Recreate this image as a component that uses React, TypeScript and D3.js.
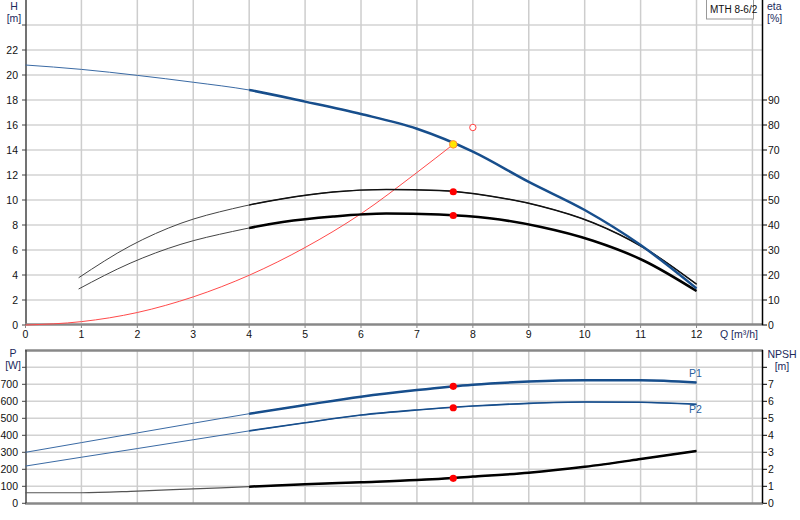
import React from 'react';
import * as d3 from 'd3';

// pump curve (top panel, H axis)
const qH = [0, 1, 2, 3, 4, 5, 6, 7, 8, 9, 10, 11, 12];
const head = [20.8, 20.45, 19.97, 19.42, 18.8, 17.87, 16.88, 15.7, 13.87, 11.45, 9.2, 6.4, 2.93];

// efficiency curves (eta axis)
const qEta = [0.95, 1.87, 2.78, 3.7, 4.6, 5.5, 6.45, 7.4, 8.3, 9.2, 10.15, 11.05, 12.0];
const etaPump = [18.9, 31.6, 40.7, 46.5, 50.5, 53.2, 54.2, 53.8, 51.6, 47.6, 40.9, 31.0, 16.3];
const etaTotal = [14.4, 24.7, 32.3, 37.4, 41.2, 43.4, 44.6, 44.2, 42.7, 39.3, 33.7, 25.8, 13.6];

// system curve
const qSys = [0, 1, 2, 3, 4, 5, 6, 7, 7.65];
const hSys = [0, 0.27, 1.0, 2.25, 3.98, 6.2, 8.9, 12.2, 14.45];

// power and NPSH (bottom panel)
const qP = [0, 1, 2, 3, 4, 5, 6, 7, 8, 9, 10, 11, 12];
const p1 = [300, 357, 414, 471, 527, 578, 627, 666, 698, 716, 724, 724, 710];
const p2 = [219, 271, 322, 374, 426, 474, 519, 549, 572, 588, 596, 594, 582];
const npsh = [0.62, 0.62, 0.72, 0.85, 0.98, 1.12, 1.24, 1.37, 1.57, 1.8, 2.15, 2.6, 3.08];

// duty point
const dutyQ = 7.65;
const dutyH = 14.45;
const dutyEta = [53.3, 43.8];
const dutyP = [688, 562];
const dutyNpsh = 1.47;
const reqQ = 8.0;
const reqH = 15.8;

const xTicks = [0, 1, 2, 3, 4, 5, 6, 7, 8, 9, 10, 11, 12];
const hTicks = [0, 2, 4, 6, 8, 10, 12, 14, 16, 18, 20, 22];
const etaTicks = [0, 10, 20, 30, 40, 50, 60, 70, 80, 90];
const pTicks = [0, 100, 200, 300, 400, 500, 600, 700];
const nTicks = [0, 1, 2, 3, 4, 5, 6, 7];

const FONT = '"Liberation Sans", Arial, sans-serif';
const BLUE = '#174e8c';
const TITLE = '#1c2a5c';

type P = [number, number];
const zip = (a: number[], b: number[]): P[] => a.map((v, i) => [v, b[i]]);

export default function App() {
  const x = d3.scaleLinear().domain([0, 13.18]).range([25.5, 762.5]);
  const yH = d3.scaleLinear().domain([0, 26]).range([325, 0]);
  const yEta = d3.scaleLinear().domain([0, 130]).range([325, 0]);
  const yP = d3.scaleLinear().domain([0, 900]).range([503.3, 350.3]);
  const yN = d3.scaleLinear().domain([0, 9]).range([503.3, 350.3]);

  const mk = (ys: d3.ScaleLinear<number, number>) =>
    d3.line<P>().x(d => x(d[0])).y(d => ys(d[1])).curve(d3.curveMonotoneX);

  const lineH = mk(yH);
  const lineEta = mk(yEta);
  const lineP = mk(yP);
  const lineN = mk(yN);

  const x4 = x(4);
  const gridX = d3.range(1, 14);
  const gridHy = d3.range(2, 26, 2);
  const gridPy = d3.range(100, 900, 100);

  const txt = { fontFamily: FONT, fontSize: 10.5 } as const;

  // thin full curve + thick part from Q=4 on
  const curve = (d: string, thin: string, thick: string, w1: number, w2: number, clip: string) => (
    <g>
      <path d={d} fill="none" stroke={thin} strokeWidth={w1} />
      <path d={d} fill="none" stroke={thick} strokeWidth={w2} clipPath={`url(#${clip})`} />
    </g>
  );

  return (
    <svg width={800} height={520} style={{ position: 'fixed', left: 0, top: 0, background: '#fff' }}>
      <defs>
        <clipPath id="cTop">
          <rect x={x4} y={0} width={800 - x4} height={330} />
        </clipPath>
        <clipPath id="cBot">
          <rect x={x4} y={345} width={800 - x4} height={170} />
        </clipPath>
      </defs>
      <rect width={800} height={520} fill="#fff" />

      {/* top panel grid */}
      {gridHy.map(h => (
        <line key={'gh' + h} x1={x(0)} x2={x(13.18)} y1={yH(h)} y2={yH(h)} stroke="#dedede" strokeWidth={2} />
      ))}
      {gridX.map(q => (
        <line key={'gx' + q} x1={x(q)} x2={x(q)} y1={0} y2={325} stroke="#cdcdcd" strokeWidth={1.5} />
      ))}

      {/* bottom panel grid */}
      {gridPy.map(p => (
        <line key={'gp' + p} x1={x(0)} x2={x(13.18)} y1={yP(p)} y2={yP(p)} stroke="#d2d2d2" strokeWidth={1.5} />
      ))}
      {gridX.map(q => (
        <line key={'gbx' + q} x1={x(q)} x2={x(q)} y1={350} y2={503} stroke="#cdcdcd" strokeWidth={1.5} />
      ))}

      {/* top panel axes */}
      <line x1={26} x2={26} y1={0} y2={325} stroke="#444" strokeWidth={1.5} />
      <line x1={25} x2={763} y1={324.5} y2={324.5} stroke="#888" strokeWidth={2.5} />
      <line x1={762.5} x2={762.5} y1={0} y2={325} stroke="#000" strokeWidth={1.5} />
      {d3.range(0, 26, 2).map(h => (
        <line key={'th' + h} x1={22} x2={26} y1={yH(h)} y2={yH(h)} stroke="#444" strokeWidth={1} />
      ))}
      {hTicks.map(h => (
        <text key={'lh' + h} x={18} y={yH(h) + 4} textAnchor="end" {...txt} fill="#111">{h}</text>
      ))}
      {etaTicks.map(e => (
        <g key={'le' + e}>
          <line x1={762.5} x2={767} y1={yEta(e)} y2={yEta(e)} stroke="#000" strokeWidth={1} />
          <text x={768} y={yEta(e) + 4} {...txt} fill="#111">{e}</text>
        </g>
      ))}
      {xTicks.map(q => (
        <g key={'lx' + q}>
          <line x1={x(q)} x2={x(q)} y1={325} y2={328} stroke="#888" strokeWidth={1} />
          <text x={x(q)} y={338} textAnchor="middle" {...txt} fill="#111">{q}</text>
        </g>
      ))}
      <text x={739} y={338} textAnchor="middle" {...txt} fill={TITLE}>Q [m³/h]</text>
      <text x={14} y={10} textAnchor="middle" {...txt} fill={TITLE}>H</text>
      <text x={14} y={22} textAnchor="middle" {...txt} fill={TITLE}>[m]</text>
      <text x={767} y={10} {...txt} fill={TITLE}>eta</text>
      <text x={767} y={22} {...txt} fill={TITLE}>[%]</text>

      {/* bottom panel axes */}
      <line x1={25} x2={763} y1={350.5} y2={350.5} stroke="#888" strokeWidth={2.5} />
      <line x1={25} x2={763} y1={503.5} y2={503.5} stroke="#888" strokeWidth={2.5} />
      <line x1={26} x2={26} y1={350} y2={503} stroke="#444" strokeWidth={1.5} />
      <line x1={762.5} x2={762.5} y1={350} y2={503} stroke="#000" strokeWidth={1.5} />
      {d3.range(0, 900, 100).map(p => (
        <line key={'tp' + p} x1={22} x2={26} y1={yP(p)} y2={yP(p)} stroke="#444" strokeWidth={1} />
      ))}
      {pTicks.map(p => (
        <text key={'lp' + p} x={18} y={yP(p) + 4} textAnchor="end" {...txt} fill="#111">{p}</text>
      ))}
      {d3.range(0, 9).map(n => (
        <line key={'tn' + n} x1={762.5} x2={767} y1={yN(n)} y2={yN(n)} stroke="#000" strokeWidth={1} />
      ))}
      {nTicks.map(n => (
        <text key={'ln' + n} x={768} y={yN(n) + 4} {...txt} fill="#111">{n}</text>
      ))}
      <text x={13} y={357} textAnchor="middle" {...txt} fill={TITLE}>P</text>
      <text x={13} y={369} textAnchor="middle" {...txt} fill={TITLE}>[W]</text>
      <text x={782} y={358} textAnchor="middle" {...txt} fill={TITLE}>NPSH</text>
      <text x={782} y={370} textAnchor="middle" {...txt} fill={TITLE}>[m]</text>

      {/* top panel curves */}
      <path d={lineH(zip(qSys, hSys)) ?? ''} fill="none" stroke="#ff4a4a" strokeWidth={1} />
      {curve(lineEta(zip(qEta, etaPump)) ?? '', '#444', '#111', 1, 1.5, 'cTop')}
      {curve(lineEta(zip(qEta, etaTotal)) ?? '', '#444', '#000', 1, 2.5, 'cTop')}
      {curve(lineH(zip(qH, head)) ?? '', '#3a6aa4', BLUE, 1, 2.5, 'cTop')}

      {/* bottom panel curves */}
      {curve(lineP(zip(qP, p1)) ?? '', '#3a6aa4', BLUE, 1, 2.5, 'cBot')}
      {curve(lineP(zip(qP, p2)) ?? '', '#3a6aa4', BLUE, 1, 1.6, 'cBot')}
      {curve(lineN(zip(qP, npsh)) ?? '', '#555', '#000', 1.2, 2.5, 'cBot')}
      <text x={689} y={377} {...txt} fill="#2a5f9e">P1</text>
      <text x={689} y={413} {...txt} fill="#2a5f9e">P2</text>

      {/* duty point markers */}
      <circle cx={x(reqQ)} cy={yH(reqH)} r={3.2} fill="#fff" stroke="#ff4040" strokeWidth={1} />
      <circle cx={x(dutyQ)} cy={yH(dutyH)} r={3.8} fill="#ffe600" stroke="#ff8a3a" strokeWidth={1} />
      {dutyEta.map((e, i) => (
        <circle key={'de' + i} cx={x(dutyQ)} cy={yEta(e)} r={3.6} fill="#ff0000" />
      ))}
      {dutyP.map((p, i) => (
        <circle key={'dp' + i} cx={x(dutyQ)} cy={yP(p)} r={3.6} fill="#ff0000" />
      ))}
      <circle cx={x(dutyQ)} cy={yN(dutyNpsh)} r={3.6} fill="#ff0000" />

      {/* legend box */}
      <rect x={706.5} y={-1} width={47} height={20} fill="#fff" stroke="#999" strokeWidth={1} />
      <text x={710} y={13} fontFamily={FONT} fontSize={10} fill="#111">MTH 8-6/2</text>
    </svg>
  );
}
